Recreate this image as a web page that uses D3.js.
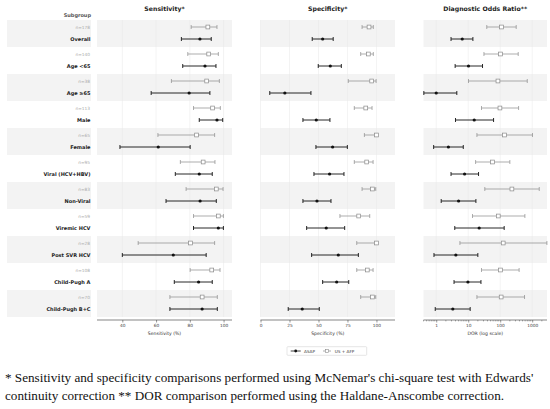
<!DOCTYPE html>
<html><head><meta charset="utf-8">
<script src="https://cdn.jsdelivr.net/npm/d3@7"></script>
<style>
html,body{margin:0;padding:0;background:#fff;}
svg{display:block;}
</style></head>
<body>
<svg id="chart" width="550" height="409"></svg>
<script>
const subgroups = ["Overall","Age <65","Age \u226565","Male","Female","Viral (HCV+HBV)","Non-Viral","Viremic HCV","Post SVR HCV","Child-Pugh A","Child-Pugh B+C"];
const nLabels = ["n=178","n=140","n=38","n=113","n=65","n=95","n=83","n=59","n=28","n=108","n=70"];
// [estimate, lower CI, upper CI]
const sensASAP = [[86.0,75.0,92.7],[89.0,75.8,95.5],[79.6,57.1,91.9],[96.1,85.6,99.5],[61.3,38.6,80.2],[85.6,71.4,93.3],[86.1,65.9,95.7],[96.9,82.2,99.9],[70.2,40.0,89.7],[85.2,70.8,93.3],[87.3,68.2,96.3]];
const sensUS   = [[90.7,80.8,96.1],[91.2,78.8,96.9],[90.0,69.1,97.5],[93.5,82.2,98.1],[84.0,61.1,94.7],[87.9,74.4,94.9],[95.7,77.8,99.7],[96.9,82.2,99.9],[80.4,49.4,94.7],[93.0,80.2,97.9],[87.3,68.2,96.3]];
const specASAP = [[53.6,44.6,62.7],[60.2,49.8,69.7],[21.0,8.0,43.5],[48.1,36.6,59.9],[62.2,47.8,74.9],[59.6,46.1,72.0],[48.7,36.6,60.8],[56.7,39.8,72.6],[67.1,44.1,84.4],[65.7,53.6,76.1],[36.0,23.9,50.7]];
const specUS   = [[93.6,87.6,97.3],[93.0,86.4,97.3],[95.9,75.7,99.7],[90.8,80.9,96.2],[100,89.6,100],[91.6,80.9,97.1],[96.5,87.6,99.4],[84.7,68.5,94.2],[100,83.0,100],[92.1,83.0,97.1],[96.5,86.4,99.4]];
const dorASAP  = [[6.5,2.9,14.0],[10.2,3.9,28],[1.0,0.41,4.4],[15.4,4.0,62],[2.4,0.83,7.0],[7.7,2.9,21],[5.0,1.43,17.4],[22,3.8,133],[4.1,0.85,20],[9.8,3.6,25],[3.3,0.93,11.5]];
const dorUS    = [[110,38,316],[102,31,365],[85,10.2,700],[98,26,375],[136,18.7,1020],[57.5,17,200],[232,33,1660],[87,13.6,590],[124,5.5,2880],[102,26,390],[107,18.7,575]];
const sensTicks = [40,60,80,100];
const specTicks = [0,25,50,75,100];
const dorTicks = [1,10,100,1000];
const panelTitles = ["Sensitivity*","Specificity*","Diagnostic Odds Ratio**"];
const axisTitles = ["Sensitivity (%)","Specificity (%)","DOR (log scale)"];
const legendLabels = ["ASAP","US + AFP"];
const footnote = ["* Sensitivity and specificity comparisons performed using McNemar's chi-square test with Edwards'",
                  "continuity correction ** DOR comparison performed using the Haldane-Anscombe correction."];

const svg = d3.select("#chart");
const FONT = "DejaVu Sans, sans-serif";
const bandFill = "#f3f3f3";
const asapCol = "#111";
const usCol = "#8a8a8a";

const y = d3.scaleBand().domain(subgroups).range([20, 317]).paddingInner(0);
const usOff = 7, asapOff = 19;

const panels = [
  {x: d3.scaleLinear().domain([25,105]).range([97,232]), ticks: sensTicks, asap: sensASAP, us: sensUS, fmt: d3.format("d")},
  {x: d3.scaleLinear().domain([0,116]).range([260.5,395]), ticks: specTicks, asap: specASAP, us: specUS, fmt: d3.format("d")},
  {x: d3.scaleLog().domain([0.4,2900]).range([423.5,547]), ticks: dorTicks, asap: dorASAP, us: dorUS, fmt: d3.format("d"), log: true}
];

// label column bands
const labG = svg.append("g");
labG.selectAll("rect").data(subgroups.filter((d,i)=>i%2===0)).join("rect")
  .attr("x",7).attr("width",84).attr("y",d=>y(d)).attr("height",y.bandwidth()).attr("fill",bandFill);
labG.append("text").attr("x",91).attr("y",16.5).attr("text-anchor","end")
  .attr("font-family",FONT).attr("font-size",5).attr("font-weight","bold").attr("fill","#555").text("Subgroup");
labG.selectAll("text.n").data(subgroups).join("text").attr("class","n")
  .attr("x",90).attr("y",d=>y(d)+usOff+1.6).attr("text-anchor","end")
  .attr("font-family",FONT).attr("font-size",4.3).attr("fill","#aaa").text((d,i)=>nLabels[i]);
labG.selectAll("text.lab").data(subgroups).join("text").attr("class","lab")
  .attr("x",90.5).attr("y",d=>y(d)+asapOff+1.8).attr("text-anchor","end")
  .attr("font-family",FONT).attr("font-size",5).attr("font-weight","bold").attr("fill","#222").text(d=>d);

const axisY = 320;
panels.forEach((p,pi)=>{
  const g = svg.append("g");
  const [x0,x1] = p.x.range();
  g.selectAll("rect").data(subgroups.filter((d,i)=>i%2===0)).join("rect")
    .attr("x",x0).attr("width",x1-x0).attr("y",d=>y(d)).attr("height",y.bandwidth()).attr("fill",bandFill);
  // gridlines
  g.selectAll("line.grid").data(p.ticks).join("line").attr("class","grid")
    .attr("x1",d=>p.x(d)).attr("x2",d=>p.x(d)).attr("y1",20).attr("y2",317)
    .attr("stroke","#e6e6e6").attr("stroke-width",0.5);
  // title
  g.append("text").attr("x",(x0+x1)/2).attr("y",11).attr("text-anchor","middle")
    .attr("font-family",FONT).attr("font-size",6.2).attr("font-weight","bold").attr("fill","#222").text(panelTitles[pi]);
  // axis
  const ax = d3.axisBottom(p.x).tickValues(p.ticks).tickFormat(p.fmt).tickSize(2.5).tickSizeOuter(0).tickPadding(1.5);
  const axg = g.append("g").attr("transform",`translate(0,${axisY})`).call(ax);
  axg.select(".domain").attr("stroke","#333").attr("stroke-width",0.6).attr("d",`M${x0},0H${x1}`);
  axg.selectAll(".tick line").attr("stroke","#333").attr("stroke-width",0.5);
  axg.selectAll(".tick text").attr("font-family",FONT).attr("font-size",4.3).attr("fill","#444");
  if (p.log) {
    const minor = [];
    [0.1,1,10,100,1000].forEach(dec=>{ for(let k=2;k<10;k++){ const v=dec*k; if(v>=0.4&&v<=2900) minor.push(v);} });
    axg.selectAll("line.minor").data(minor).join("line").attr("class","minor")
      .attr("x1",d=>p.x(d)).attr("x2",d=>p.x(d)).attr("y1",0).attr("y2",1.4)
      .attr("stroke","#333").attr("stroke-width",0.4);
  }
  g.append("text").attr("x",(x0+x1)/2 + (pi===0?0:0)).attr("y",335).attr("text-anchor","middle")
    .attr("font-family",FONT).attr("font-size",4.6).attr("fill","#333").text(axisTitles[pi]);

  const clampX = v => p.x(Math.max(p.x.domain()[0], Math.min(p.x.domain()[1], v)));
  // US + AFP (gray, open square)
  const series = [
    {data: p.us, off: usOff, col: usCol, sw: 0.7, type: "sq"},
    {data: p.asap, off: asapOff, col: asapCol, sw: 0.9, type: "dot"}
  ];
  series.forEach(s=>{
    const sg = g.append("g");
    const rows = sg.selectAll("g").data(subgroups).join("g")
      .attr("transform",d=>`translate(0,${y(d)+s.off})`);
    rows.append("line").attr("x1",(d,i)=>clampX(s.data[i][1])).attr("x2",(d,i)=>clampX(s.data[i][2]))
      .attr("stroke",s.col).attr("stroke-width",s.sw);
    rows.append("line").attr("x1",(d,i)=>clampX(s.data[i][1])).attr("x2",(d,i)=>clampX(s.data[i][1]))
      .attr("y1",-2).attr("y2",2).attr("stroke",s.col).attr("stroke-width",s.sw);
    rows.append("line").attr("x1",(d,i)=>clampX(s.data[i][2])).attr("x2",(d,i)=>clampX(s.data[i][2]))
      .attr("y1",-2).attr("y2",2).attr("stroke",s.col).attr("stroke-width",s.sw);
    if (s.type==="sq") {
      rows.append("rect").attr("x",(d,i)=>p.x(s.data[i][0])-1.9).attr("y",-1.9).attr("width",3.8).attr("height",3.8)
        .attr("fill","#fff").attr("stroke",s.col).attr("stroke-width",0.7);
    } else {
      rows.append("circle").attr("cx",(d,i)=>p.x(s.data[i][0])).attr("r",1.6).attr("fill",s.col);
    }
  });
});

// legend
const lg = svg.append("g");
lg.append("rect").attr("x",287).attr("y",346.7).attr("width",79.7).attr("height",8.6)
  .attr("fill","#fff").attr("stroke","#ccc").attr("stroke-width",0.5).attr("rx",0.8);
const ly = 351;
lg.append("line").attr("x1",290.7).attr("x2",300.7).attr("y1",ly).attr("y2",ly).attr("stroke",asapCol).attr("stroke-width",0.8);
lg.append("circle").attr("cx",295.7).attr("cy",ly).attr("r",1.4).attr("fill",asapCol);
lg.append("text").attr("x",304).attr("y",ly+1.5).attr("font-family",FONT).attr("font-size",4.2).attr("fill","#333").text(legendLabels[0]);
lg.append("line").attr("x1",323).attr("x2",331).attr("y1",ly).attr("y2",ly).attr("stroke",usCol).attr("stroke-width",0.7);
lg.append("rect").attr("x",325.3).attr("y",ly-1.7).attr("width",3.4).attr("height",3.4).attr("fill","#fff").attr("stroke",usCol).attr("stroke-width",0.6);
lg.append("text").attr("x",334.7).attr("y",ly+1.5).attr("font-family",FONT).attr("font-size",4.2).attr("fill","#333").text(legendLabels[1]);

// footnote
const fg = svg.append("g");
const f1 = fg.append("text").attr("x",5).attr("y",382).attr("font-family","Liberation Serif, DejaVu Serif, serif").attr("font-size",13).attr("fill","#111").text(footnote[0]);
const w = f1.node().getComputedTextLength();
const fs = 13 * 529 / w;
f1.attr("font-size",fs);
fg.append("text").attr("x",5).attr("y",399.5).attr("font-family","Liberation Serif, DejaVu Serif, serif").attr("font-size",fs).attr("fill","#111").text(footnote[1]);
</script>
</body></html>
